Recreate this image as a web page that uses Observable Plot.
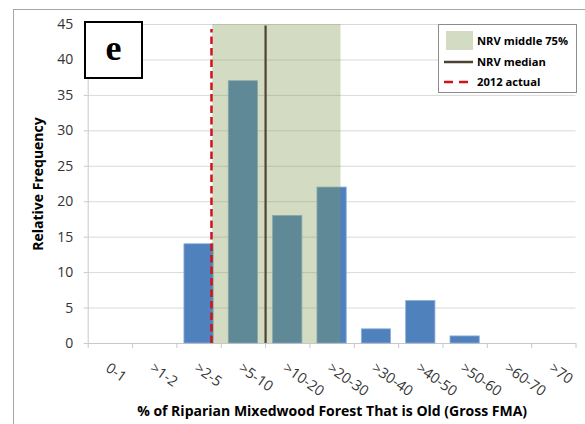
<!DOCTYPE html>
<html>
<head>
<meta charset="utf-8">
<script src="https://cdn.jsdelivr.net/npm/d3@7"></script>
<script src="https://cdn.jsdelivr.net/npm/@observablehq/plot@0.6"></script>
<style>
  html, body { margin:0; padding:0; background:#fff; }
  #wrap { position:relative; width:585px; height:424px; overflow:hidden; font-family: "Open Sans", Lato, sans-serif; }
  #frame { position:absolute; left:13px; top:9px; width:600px; height:500px; border-left:1px solid #a6a6a6; border-top:1px solid #a6a6a6; }
  #chart { position:absolute; left:0; top:0; }
  #panel { position:absolute; left:84px; top:21px; width:55px; height:54px; border:2px solid #000; background:#fff;
           font-family:"Liberation Serif", "DejaVu Serif", serif; font-weight:bold; font-size:36px; text-align:center; line-height:50px; }
  #legend { position:absolute; left:438px; top:24px; width:137px; height:67px; border:1px solid #8c8c8c; background:#fff;
            font-family: "Open Sans", sans-serif; font-weight:bold; font-size:11.2px; color:#000; }
  .row { position:absolute; left:0; height:20px; width:137px; }
  .row svg { position:absolute; left:4px; top:0; }
  .row span { position:absolute; left:38px; top:2px; white-space:nowrap; }
</style>
</head>
<body>
<div id="wrap">
  <div id="frame"></div>
  <div id="chart"></div>
  <div id="panel">e</div>
  <div id="legend"></div>
</div>
<script>
// ---- data ----
const categories = ["0-1", ">1-2", ">2-5", ">5-10", ">10-20", ">20-30", ">30-40", ">40-50", ">50-60", ">60-70", ">70"];
const frequency = [0, 0, 14, 37, 18, 22, 2, 6, 1, 0, 0];
const yTicks = [0, 5, 10, 15, 20, 25, 30, 35, 40, 45];
// positions expressed in category-bin units along the x axis
const nrvRange = [2.81, 5.70];   // NRV middle 75%
const nrvMedian = 4.0;           // NRV median
const actual2012 = 2.78;         // 2012 actual
const legendLabels = ["NRV middle 75%", "NRV median", "2012 actual"];
const xTitle = "% of Riparian Mixedwood Forest That is Old (Gross FMA)";
const yTitle = "Relative Frequency";

const barColor = "#4f81bd";
const shadeColor = "#7e984e";
const shadeOpacity = 0.34;
const medianColor = "#4d4332";
const actualColor = "#d0121b";

const bars = categories.map((c, i) => ({cat: c, i, value: frequency[i]})).filter(d => d.value > 0);
const labels = categories.map((c, i) => ({cat: c, pos: i + 0.5}));
const boundaries = d3.range(categories.length + 1);

const chart = Plot.plot({
  width: 585,
  height: 424,
  marginLeft: 87.7,
  marginRight: 9.5,
  marginTop: 24,
  marginBottom: 81,
  style: {fontFamily: "'Open Sans', Lato, sans-serif", background: "transparent", overflow: "visible"},
  x: {type: "linear", domain: [0, categories.length]},
  y: {domain: [0, 45]},
  marks: [
    Plot.gridY(yTicks, {stroke: "#d9d9d9", strokeOpacity: 1, strokeWidth: 1}),
    Plot.ruleX([0], {y1: 0, y2: 45, stroke: "#c8c8c8"}),
    Plot.axisY({ticks: yTicks, tickSize: 4, tickPadding: 11, stroke: "#c8c8c8", fill: "#333", fontSize: 14, label: null}),
    Plot.ruleY([0], {stroke: "#c8c8c8"}),
    Plot.axisX({ticks: boundaries, tickSize: 5, tickFormat: () => "", stroke: "#c8c8c8", label: null}),
    Plot.rect(bars, {x1: d => d.i + 0.17, x2: d => d.i + 0.83, y1: 0, y2: "value", fill: barColor, stroke: "#8fb0d8", strokeWidth: 0.8}),
    Plot.rect([nrvRange], {x1: d => d[0], x2: d => d[1], y1: 0, y2: 45, fill: shadeColor, fillOpacity: shadeOpacity}),
    Plot.ruleX([nrvMedian], {y1: 0, y2: 44.8, stroke: medianColor, strokeWidth: 2.2}),
    Plot.ruleX([actual2012], {y1: 0, y2: 44.3, stroke: actualColor, strokeWidth: 2.5, strokeDasharray: "7.5,4"}),
    Plot.text(labels, {x: "pos", y: 0, text: "cat", rotate: 35, textAnchor: "start", lineAnchor: "middle", dy: 23, dx: -3, fontSize: 14.5, fill: "#333"}),
    Plot.text([xTitle], {frameAnchor: "bottom", dy: 68, lineAnchor: "middle", fontWeight: "bold", fontSize: 14, fill: "#000"}),
    Plot.text([yTitle], {frameAnchor: "left", dx: -50, rotate: -90, lineAnchor: "middle", textAnchor: "middle", fontWeight: "bold", fontSize: 14, fill: "#000"})
  ]
});
document.getElementById("chart").appendChild(chart);

// ---- legend ----
const legend = d3.select("#legend");
const swatches = [
  s => s.append("rect").attr("x", 3).attr("y", 0).attr("width", 27).attr("height", 19).attr("fill", shadeColor).attr("fill-opacity", shadeOpacity),
  s => s.append("line").attr("x1", 1).attr("x2", 30).attr("y1", 10).attr("y2", 10).attr("stroke", medianColor).attr("stroke-width", 2.5),
  s => s.append("line").attr("x1", 1).attr("x2", 30).attr("y1", 10).attr("y2", 10).attr("stroke", actualColor).attr("stroke-width", 2.5).attr("stroke-dasharray", "9,6")
];
const rowTops = [6, 27, 47];
legendLabels.forEach((lab, k) => {
  const row = legend.append("div").attr("class", "row").style("top", rowTops[k] + "px");
  const svg = row.append("svg").attr("width", 34).attr("height", 20);
  swatches[k](svg);
  row.append("span").text(lab);
});
</script>
</body>
</html>
